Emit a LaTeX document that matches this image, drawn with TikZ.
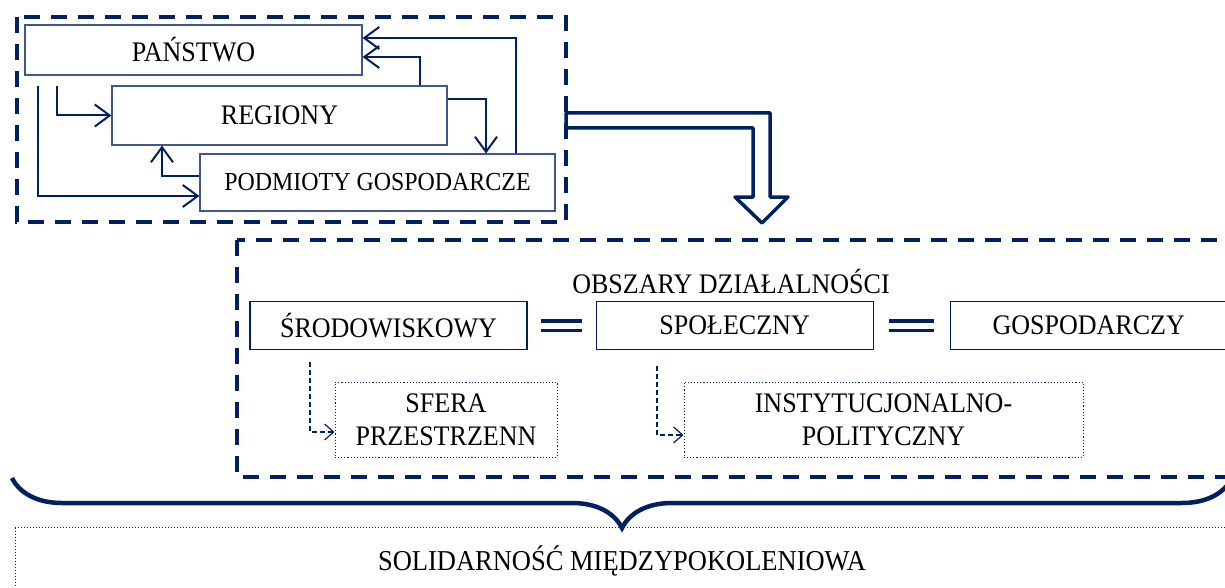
\documentclass[tikz,border=0pt]{standalone}
\usepackage{fontspec}
\setmainfont{Liberation Serif}
\newfontfamily\tallfont[FakeStretch=0.92]{Liberation Serif}
\usepackage{xcolor}
\usepackage{tikz}
\usetikzlibrary{arrows.meta}
\usetikzlibrary{calc}
\usetikzlibrary{positioning}
\usetikzlibrary{decorations.pathreplacing}
\definecolor{navy}{RGB}{0,32,96}

\begin{document}
\begin{tikzpicture}[x=1pt,y=-1pt,>={Straight Barb[length=15pt,width=22pt]},node distance=68pt, semithick]
	\tikzstyle{box}=[draw=navy!75, line width=1.1pt, inner sep=0pt, fill=white, text=black, font=\tallfont\fontsize{28.3}{30}\selectfont]
	\tikzstyle{sub}=[box, draw=navy, dotted, line width=1pt, align=center, font=\tallfont\fontsize{28.3}{33}\selectfont]
	\tikzstyle{area}=[navy, line width=4pt, dash pattern=on 16pt off 11pt]
	\tikzstyle{link}=[->, navy, line width=2pt]
	\tikzstyle{dlink}=[->, navy, line width=1.2pt, dash pattern=on 5pt off 3pt, >={Straight Barb[length=9pt,width=16pt]}]
	\tikzstyle{eq}=[navy, line width=3.5pt, double=white, double distance=6pt]

	\useasboundingbox (0,0) rectangle (1225,588);

	% podmioty polityki
	\draw[area] (17,17) rectangle (566,222);
	\node[box, minimum width=337pt, minimum height=50pt] (P) at (193.5,50) {PAŃSTWO};
	\node[box, minimum width=335pt, minimum height=59pt] (R) at (279.5,115.5) {REGIONY};
	\node[box, minimum width=355pt, minimum height=57pt, font=\tallfont\fontsize{26}{28}\selectfont] (G) at (377.5,182.5) {PODMIOTY GOSPODARCZE};

	\coordinate (p1) at (57,86);
	\coordinate (p2) at (38,86);
	\path[link]
			(p1) edge[to path={|- (\tikztotarget)}] (R.west)
			(p2) edge[to path={|- (\tikztotarget)}] ([yshift=-13.5pt]G.west)
			([yshift=6.5pt]G.west) edge[to path={-| (\tikztotarget)}] ([xshift=-117.5pt]R.south)
			([xshift=140.5pt]R.north) edge[to path={|- (\tikztotarget)}] ([yshift=-7pt]P.east)
			([xshift=138.5pt]G.north) edge[to path={|- (\tikztotarget)}] ([yshift=12pt]P.east)
			([yshift=16.5pt]R.east) edge[to path={-| (\tikztotarget)}] ([xshift=108.5pt]G.north);

	% strzalka
	\draw[navy, line width=3.5pt, line join=round, fill=white] (566,113) -- (770,113) -- (770,197) -- (788,197) -- (762,223) -- (735,197) -- (753,197) -- (753,128) -- (566,128) -- cycle;

	% obszary
	\draw[area] (237,240) rectangle (1300,477);
	\node[font=\tallfont\fontsize{28.3}{30}\selectfont] (O) at (731,281) {OBSZARY DZIAŁALNOŚCI};
	\node[box, draw=navy, minimum width=277pt, minimum height=48pt] (S) at (388.5,325.5) {ŚRODOWISKOWY};
	\node[box, draw=navy, minimum width=277pt, minimum height=48pt] (Sp) [right=68pt of S] {SPOŁECZNY};
	\node[box, draw=navy, minimum width=277pt, minimum height=48pt] (Go) [right=76pt of Sp] {GOSPODARCZY};
	\draw[eq] ($(S.east)!0.2!(Sp.west)$) -- ($(S.east)!0.8!(Sp.west)$);
	\draw[eq] ($(Sp.east)!0.2!(Go.west)$) -- ($(Sp.east)!0.8!(Go.west)$);

	\node[sub, minimum width=222pt, minimum height=75pt] (Sf) at (446,419.5) {SFERA\\PRZESTRZENN};
	\node[sub, minimum width=399pt, minimum height=75pt] (In) at (883.5,419.5) {INSTYTUCJONALNO-\\POLITYCZNY};
	\coordinate (d1) at (310,362);
	\coordinate (d2) at (657,366);
	\draw[dlink] (d1) |- ([yshift=-12.5pt]Sf.west);
	\draw[dlink] (d2) |- ([yshift=-15.5pt]In.west);

	% klamra
	\coordinate (b1) at (12,478);
	\coordinate (b2) at (1232,478);
	\draw[navy, line width=4.5pt, decorate, decoration={brace, mirror, amplitude=50pt}] (b1) -- (b2);

	\node[draw=navy, dotted, line width=1pt, inner sep=0pt, minimum width=1300pt, minimum height=100pt, anchor=north west] (Sb) at (15,527) {};
	\node[font=\tallfont\fontsize{28.8}{30}\selectfont] (L) at (622,561) {SOLIDARNOŚĆ MIĘDZYPOKOLENIOWA};
\end{tikzpicture}
\end{document}
